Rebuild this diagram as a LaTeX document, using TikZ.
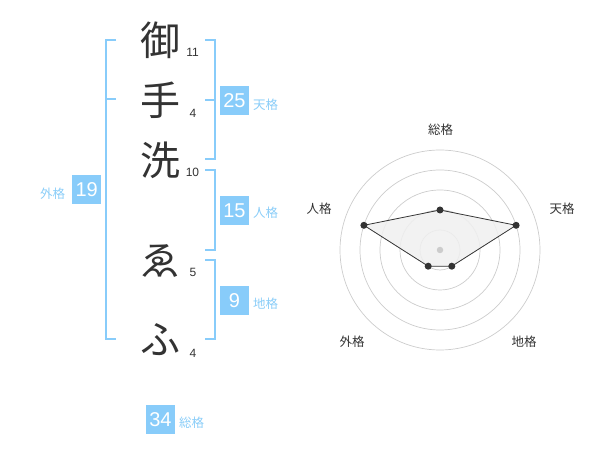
\documentclass[tikz,border=0pt]{standalone}
\usepackage{fontspec}
\setmainfont{Liberation Sans}
\newfontfamily\jp{Noto Sans CJK JP}
\definecolor{bl}{HTML}{88CCFA}
\definecolor{lbl}{HTML}{8ACDF8}
\definecolor{ink}{HTML}{333333}
\definecolor{grid}{HTML}{CCCCCC}
\definecolor{poly}{HTML}{F0F0F0}
\tikzset{
  kanji/.style={inner sep=0pt,text=ink,font=\jp\fontsize{40}{40}\selectfont},
  strokes/.style={inner sep=0pt,text=ink,font=\fontsize{12}{12}\selectfont},
  numbox/.style={fill=bl,text=white,minimum width=29pt,minimum height=29pt,inner sep=0pt,font=\fontsize{20}{20}\selectfont},
  kaku/.style={inner sep=0pt,text=lbl,font=\jp\fontsize{12.5}{12.5}\selectfont},
  brk/.style={draw=bl,line width=2pt},
  radlbl/.style={inner sep=0pt,text=ink,font=\jp\fontsize{12.5}{12.5}\selectfont},
  ring/.style={draw=grid,line width=0.7pt},
  dot/.style={circle,fill=ink,inner sep=0pt,minimum size=7pt},
}
\begin{document}
\begin{tikzpicture}[x=1pt,y=-1pt]
\useasboundingbox (0,0) rectangle (600,470);
% characters
\node[kanji] (c1) at (160,40) {御};
\node[kanji] (c2) at (160,100) {手};
\node[kanji] (c3) at (160,160) {洗};
\node[kanji] (c4) at (160,261) {ゑ};
\node[kanji] (c5) at (160,340) {ふ};
\node[strokes] (s1) at (192.5,52.7) {11};
\node[strokes] (s2) at (193,113) {4};
\node[strokes] (s3) at (192.5,172.3) {10};
\node[strokes] (s4) at (193,272.7) {5};
\node[strokes] (s5) at (193,353.3) {4};
% left bracket
\draw[brk] (116,40) -- (105.7,40) -- (105.7,339.3) -- (116,339.3);
\draw[brk] (105.7,99.5) -- (116,99.5);
% right brackets
\draw[brk] (205,40) -- (214.8,40) -- (214.8,159.5) -- (205,159.5);
\draw[brk] (205,100) -- (214.8,100);
\draw[brk] (205,170) -- (214.8,170) -- (214.8,250) -- (205,250);
\draw[brk] (205,260) -- (214.8,260) -- (214.8,339.3) -- (205,339.3);
% boxes
\node[numbox] (b25) at (234.5,100.5) {25};
\node[kaku] (l25) at (265.7,104.5) {天格};
\node[numbox] (b15) at (234.5,210.5) {15};
\node[kaku] (l15) at (265.7,213) {人格};
\node[numbox] (b9) at (234.5,300.5) {9};
\node[kaku] (l9) at (265.7,304) {地格};
\node[numbox] (b19) at (86.7,190) {19};
\node[kaku] (l19) at (52.7,193.3) {外格};
\node[numbox] (b34) at (160.5,419.5) {34};
\node[kaku] (l34) at (191.7,422.7) {総格};
% radar
\coordinate (O) at (440,250);
\foreach \r in {20,40,60,80,100} \draw[ring] (O) circle[radius=\r];
\coordinate (pA) at (440,210);
\coordinate (pB) at (516.1,225.3);
\coordinate (pC) at (451.8,266.2);
\coordinate (pD) at (428.2,266.2);
\coordinate (pE) at (363.9,225.3);
\filldraw[fill=poly,fill opacity=0.85,draw=ink,line width=0.8pt] (pA) -- (pB) -- (pC) -- (pD) -- (pE) -- cycle;
\node[circle,fill=grid,inner sep=0pt,minimum size=6.5pt] (ctr) at (O) {};
\foreach \p in {pA,pB,pC,pD,pE} \node[dot] at (\p) {};
\node[radlbl] (r1) at (440.7,130) {総格};
\node[radlbl] (r2) at (562,209) {天格};
\node[radlbl] (r3) at (524,342) {地格};
\node[radlbl] (r4) at (352,342) {外格};
\node[radlbl] (r5) at (319,209) {人格};
\end{tikzpicture}
\end{document}
